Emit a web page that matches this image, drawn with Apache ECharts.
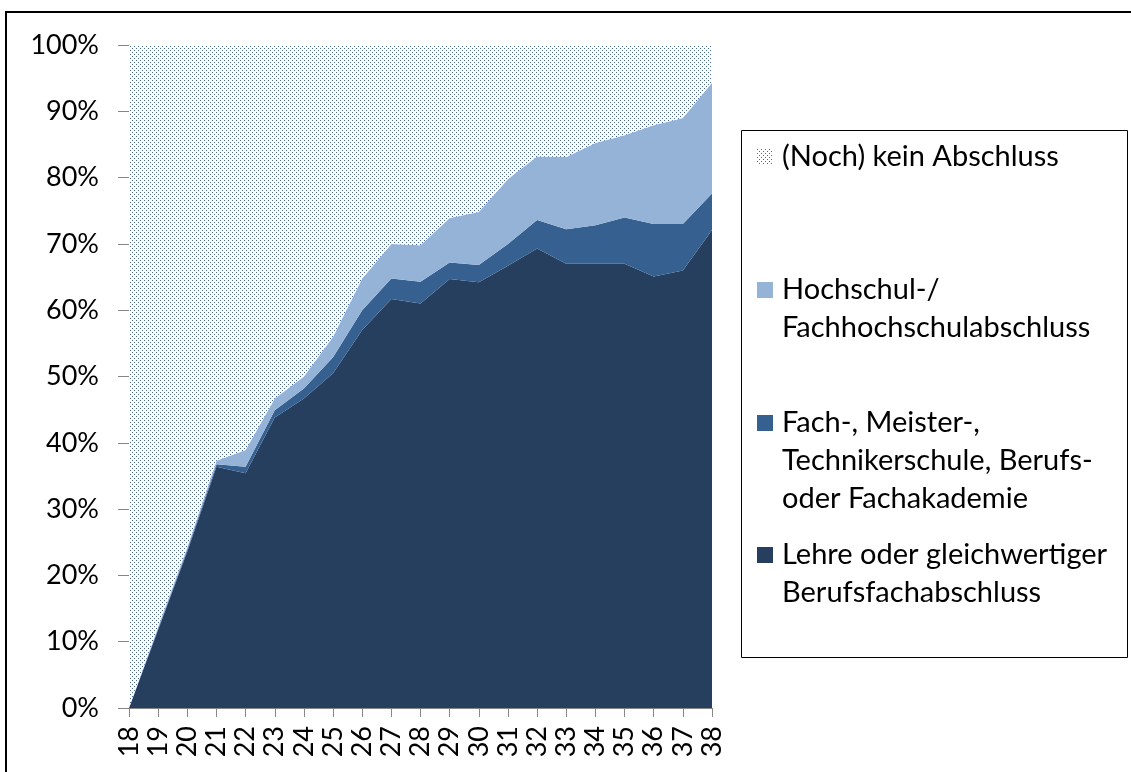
<!DOCTYPE html>
<html>
<head>
<meta charset="utf-8">
<script src="https://cdn.jsdelivr.net/npm/echarts@6/dist/echarts.min.js"></script>
<style>
  html, body { margin: 0; padding: 0; background: #fff; }
  #chart { width: 1131px; height: 772px; }
</style>
</head>
<body>
<div id="chart"></div>
<script>
// ages on the x axis
var ages = ['18','19','20','21','22','23','24','25','26','27','28','29','30','31','32','33','34','35','36','37','38'];

// shares in %, stacked from bottom to top
var lehre = [0, 11.8, 23.6, 36.4, 35.4, 43.8, 46.7, 50.5, 57.0, 61.7, 61.0, 64.7, 64.2, 66.7, 69.3, 67.0, 67.0, 67.0, 65.1, 66.0, 72.1];
var fachschule = [0, 0.2, 0.3, 0.35, 1.0, 1.1, 1.5, 2.4, 3.0, 3.1, 3.3, 2.5, 2.6, 3.3, 4.3, 5.2, 5.8, 7.0, 7.9, 7.0, 5.5];
var hochschule = [0, 0.3, 0.4, 0.55, 2.5, 1.8, 1.8, 3.1, 4.8, 5.2, 5.5, 6.7, 8.0, 9.8, 9.6, 10.9, 12.4, 12.4, 14.9, 16.0, 16.7];
// rest up to 100 %
var keinAbschluss = ages.map(function (a, i) {
  return +(100 - lehre[i] - fachschule[i] - hochschule[i]).toFixed(2);
});

var yTicks = [0, 10, 20, 30, 40, 50, 60, 70, 80, 90, 100];

var names = [
  '(Noch) kein Abschluss',
  'Hochschul-/\nFachhochschulabschluss',
  'Fach-, Meister-,\nTechnikerschule, Berufs-\noder Fachakademie',
  'Lehre oder gleichwertiger\nBerufsfachabschluss'
];

// dotted fill like the excel pattern
function dotPattern() {
  var c = document.createElement('canvas');
  c.width = 4; c.height = 4;
  var ctx = c.getContext('2d');
  ctx.fillStyle = '#ffffff';
  ctx.fillRect(0, 0, 4, 4);
  ctx.fillStyle = '#46689a';
  ctx.fillRect(0, 0, 1, 1);
  ctx.fillRect(2, 2, 1, 1);
  return c;
}

var font = 'Lato';
var lineH = 38;

// one legend per entry, icon sits on the first text line (excel style)
function legendFor(name, iconCenter) {
  var lines = name.split('\n').length;
  var total = 2 * lines - 1;   // blank lines on top keep line 1 on the icon
  return {
    data: [name],
    orient: 'vertical',
    left: 757,
    top: iconCenter - total * lineH / 2,
    padding: 0,
    itemWidth: 16,
    itemHeight: 16,
    icon: 'rect',
    selectedMode: false,
    formatter: function (n) {
      return new Array(lines).join('\n') + n;
    },
    textStyle: {
      fontFamily: font,
      fontSize: 29,
      color: '#000',
      lineHeight: lineH,
      padding: [0, 0, 0, 4]
    }
  };
}

function areaSeries(name, data, color) {
  return {
    name: name,
    type: 'line',
    stack: 'total',
    data: data,
    showSymbol: false,
    symbol: 'none',
    lineStyle: { width: 0 },
    itemStyle: { color: color },
    areaStyle: { color: color, opacity: 1 },
    emphasis: { disabled: true }
  };
}

var myChart = echarts.init(document.getElementById('chart'));
var option = {
  animation: false,
  textStyle: { fontFamily: font },
  grid: {
    left: 129,
    right: 419,
    top: 45,
    bottom: 64
  },
  legend: [
    legendFor(names[0], 157),
    legendFor(names[1], 290),
    legendFor(names[2], 423),
    legendFor(names[3], 555)
  ],
  graphic: [
    {
      type: 'rect',
      shape: { x: 6, y: 12, width: 1140, height: 800 },
      style: { fill: 'none', stroke: '#000', lineWidth: 2 },
      silent: true
    },
    {
      type: 'rect',
      shape: { x: 741.5, y: 130.5, width: 386, height: 527 },
      style: { fill: 'none', stroke: '#000', lineWidth: 1 },
      silent: true
    }
  ],
  xAxis: {
    type: 'category',
    data: ages,
    boundaryGap: false,
    axisLine: { lineStyle: { color: '#868686', width: 1 } },
    axisTick: { show: true, length: 9, lineStyle: { color: '#868686' } },
    axisLabel: {
      rotate: 90,
      margin: 18,
      interval: 0,
      fontFamily: font,
      fontSize: 27,
      color: '#000'
    }
  },
  yAxis: {
    type: 'value',
    min: 0,
    max: 100,
    interval: 10,
    axisLine: { show: true, lineStyle: { color: '#868686', width: 1 } },
    axisTick: { show: true, length: 11, lineStyle: { color: '#868686' } },
    splitLine: { show: false },
    axisLabel: {
      margin: 30,
      fontFamily: font,
      fontSize: 27,
      color: '#000',
      formatter: function (v) { return yTicks.indexOf(v) > -1 ? v + '%' : ''; }
    }
  },
  series: [
    areaSeries(names[3], lehre, '#263f5f'),
    areaSeries(names[2], fachschule, '#35608f'),
    areaSeries(names[1], hochschule, '#95b3d7'),
    areaSeries(names[0], keinAbschluss, { image: dotPattern(), repeat: 'repeat' })
  ]
};
myChart.setOption(option);
</script>
</body>
</html>
